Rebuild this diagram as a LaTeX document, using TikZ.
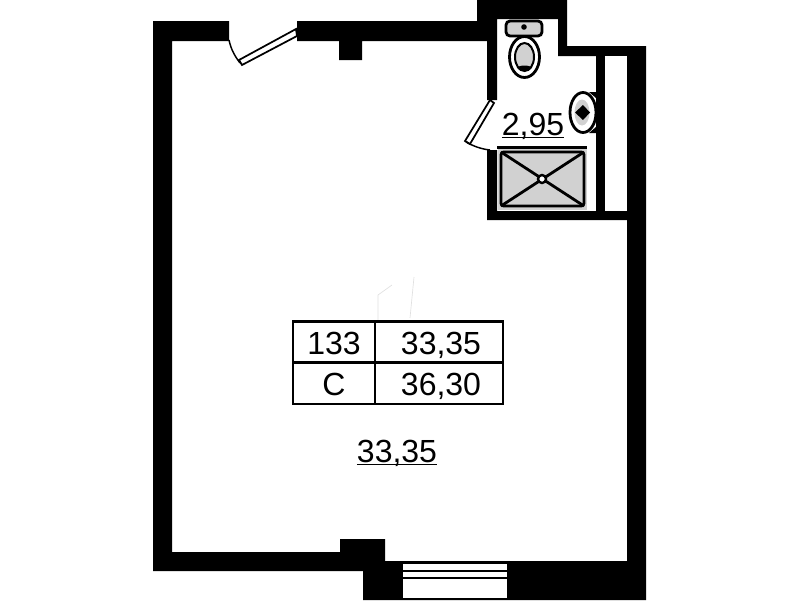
\documentclass[tikz,border=0pt]{standalone}
\usepackage{xcolor}
\usepackage{fontspec}
\setmainfont{Liberation Sans}
\usetikzlibrary{positioning}
\definecolor{fixture}{gray}{0.82}
\newcommand{\areatext}[1]{$\underline{\smash{\hbox{#1}}}$}

\begin{document}
\begin{tikzpicture}[
  x=0.75pt,y=-0.75pt,
  wall/.style={fill=black,draw=none},
  gap/.style={fill=white,draw=none},
  leaf/.style={draw=black,fill=white,line width=1.3pt},
  swing/.style={draw=black,line width=1.1pt},
  ware/.style={draw=black,fill=fixture,line width=2.1pt},
  cell/.style={rectangle,draw,line width=1.8pt,inner sep=0pt,outer sep=0pt,minimum height=31pt,text height=18pt,text depth=0pt,font=\fontsize{24}{24}\selectfont},
  area/.style={inner sep=0pt,font=\fontsize{24}{24}\selectfont}
]
\useasboundingbox (0,0) rectangle (799,600);

% walls
\path[wall] (229,21) -- (153,21) -- (153,571) -- (363,571) -- (363,600) -- (646,600)
  -- (646,46) -- (567,46) -- (567,0) -- (477,0) -- (477,21) -- (297,21) -- (297,41)
  -- (339,41) -- (339,60) -- (362,60) -- (362,41) -- (487,41) -- (487,100) -- (497,100)
  -- (497,19) -- (558,19) -- (558,56) -- (596,56) -- (596,211) -- (497,211) -- (497,150)
  -- (487,150) -- (487,220) -- (627,220) -- (627,561) -- (385,561) -- (385,539)
  -- (340,539) -- (340,552) -- (172,552) -- (172,41) -- (229,41) -- cycle;

% shaft
\path[gap] (605,56) rectangle (627,211);

% window
\path[gap] (403,564) rectangle (507,570);
\path[gap] (403,572) rectangle (507,577);
\path[gap] (403,579) rectangle (507,598);

% doors
\draw[leaf] (296,29) -- (297,36) -- (242,65) -- (239,60) -- cycle;
\draw[swing] (229,40) .. controls (231,49) and (234,55) .. (240,63);
\draw[leaf] (490,100) -- (494,103) -- (470,144) -- (465,141) -- cycle;
\draw[swing] (466,142) .. controls (473,146) and (481,149) .. (490,150);

% toilet
\draw[ware,rounded corners=3pt] (506,21) rectangle (542,36);
\fill (524,27) circle (2.8);
\draw[ware,fill=white] (524.5,57) ellipse (15 and 20.5);
\draw[draw=black,fill=fixture,line width=1.5pt] (524.5,57) ellipse (9.5 and 14);
\fill (524.5,68) ellipse (7 and 2.5);

% sink
\draw[ware,fill=white] (583,112.5) ellipse (13 and 20);
\path[wall] (589,92) -- (596,92) -- (596,98) -- cycle;
\path[wall] (589,133) -- (596,133) -- (596,127) -- cycle;
\path[fill=fixture] (582,112.5) ellipse (7.5 and 13);
\fill (575,112.5) -- (583,105) -- (590,112.5) -- (583,120) -- cycle;

% shower
\path[fill=fixture] (498,148) rectangle (587,210);
\path[wall] (497,146) rectangle (587,149);
\draw[ware,rounded corners=2pt] (501,152) rectangle (584,206);
\draw[line width=2.1pt] (501,152) -- (584,206) (501,206) -- (584,152);
\draw[fill=white,line width=1.8pt] (542,179) circle (4);

% faint trace above the table
\draw[black!12,line width=0.5pt] (378,320) -- (378,295) -- (392,285) (414,277) -- (410,318);

% table
\node[cell,minimum width=61.5pt] (num) at (334,342) {133};
\node[cell,minimum width=96pt,right=0pt of num] (total) {\hspace*{3pt}33,35};
\node[cell,minimum width=61.5pt,below=0pt of num] (kind) {C};
\node[cell,minimum width=96pt,right=0pt of kind] (full) {\hspace*{3pt}36,30};

% areas
\node[area,anchor=base] (room) at (397,462) {\areatext{33,35}};
\node[area,anchor=base] (bath) at (533,135) {\areatext{2,95}};
\end{tikzpicture}
\end{document}
